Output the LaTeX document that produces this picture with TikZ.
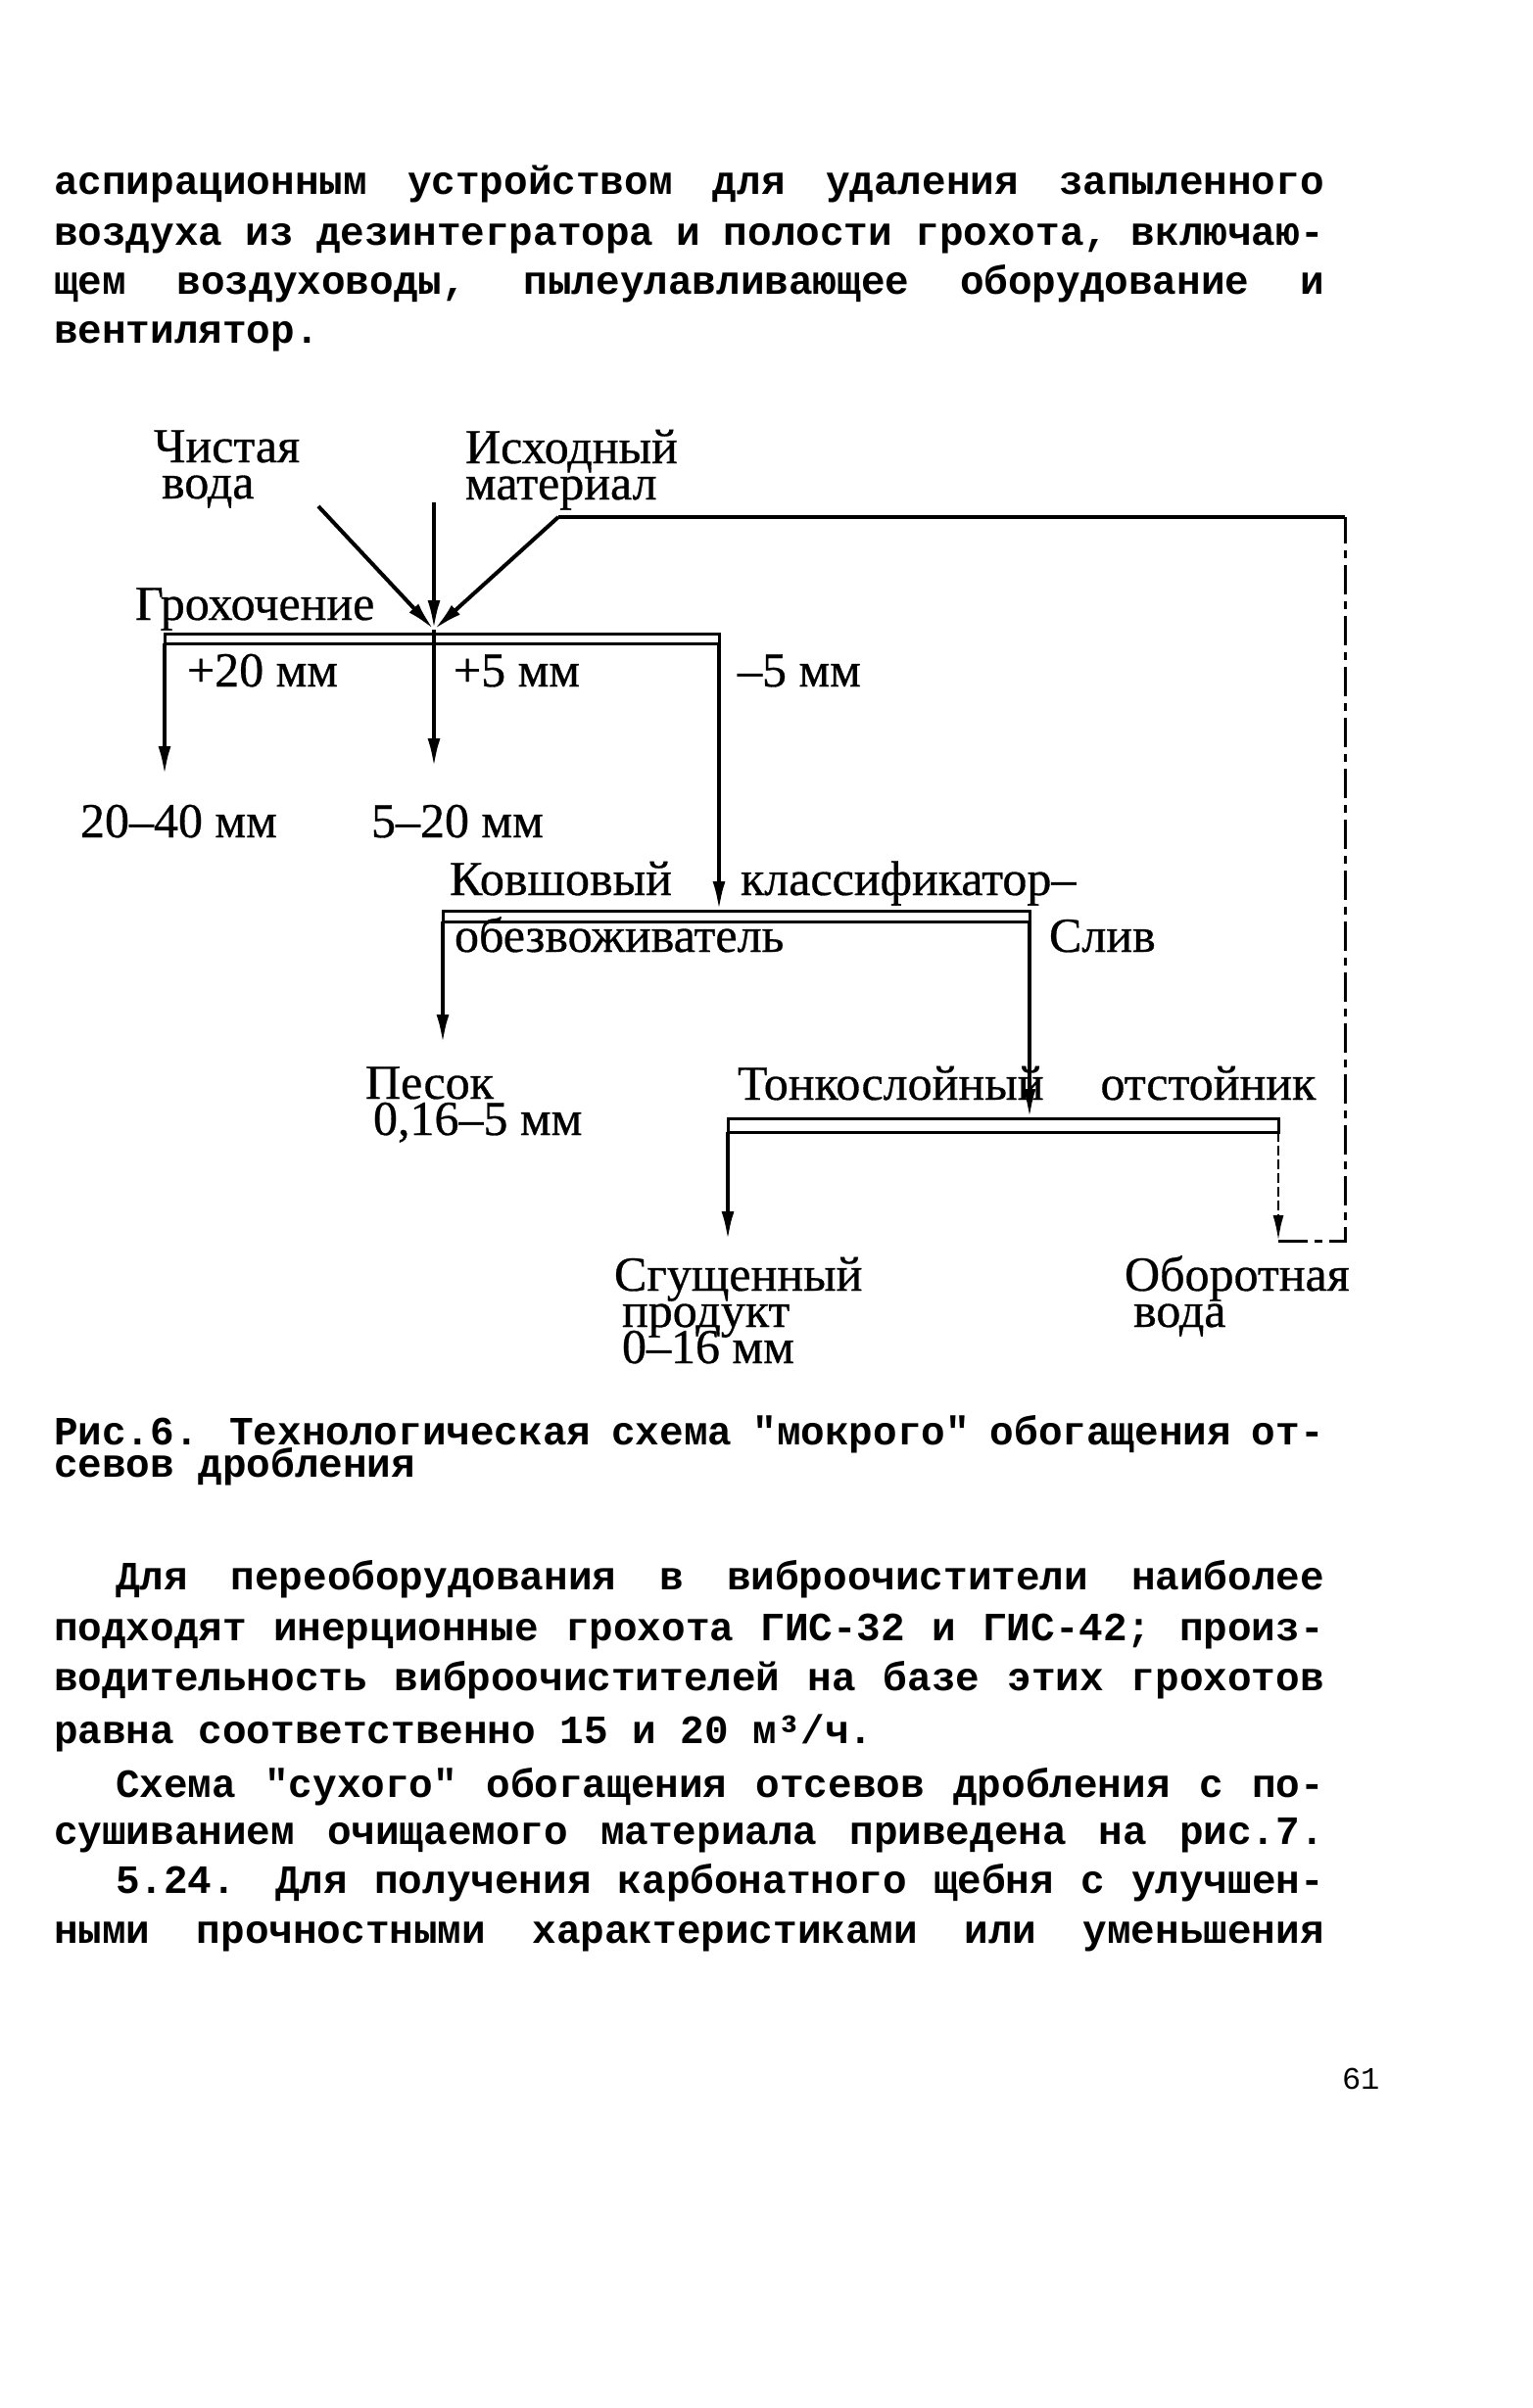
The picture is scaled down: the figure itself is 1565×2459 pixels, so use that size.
\documentclass[tikz,border=0pt]{standalone}
\usepackage{fontspec}
\setmainfont{Liberation Serif}
\newfontfamily\labf{Liberation Serif}[FakeBold=0.6]
\newfontfamily\tw{Liberation Mono}
\usetikzlibrary{arrows.meta}
\newcommand\jl[2]{\makebox[#1pt][s]{\spaceskip=0.6em plus 1fil minus 0.25em\relax #2}}
\newcommand\ml[2]{\begin{minipage}[t]{#1pt}\lineskiplimit=-100pt\relax #2\end{minipage}}
\begin{document}
\begin{tikzpicture}[x=1pt,y=-1pt,
  body/.style={anchor=base west,inner sep=0pt,outer sep=0pt,font=\tw\bfseries\fontsize{41}{48}\selectfont},
  captxt/.style={anchor=base west,inner sep=0pt,outer sep=0pt,font=\tw\bfseries\fontsize{41}{33}\selectfont},
  lab/.style={anchor=base west,inner sep=0pt,outer sep=0pt,font=\labf\fontsize{50}{37}\selectfont},
  ln/.style={line width=4pt},
  bar/.style={line width=3pt},
  arr/.style={line width=4pt,-{Latex[length=30pt,width=13pt]}},
  fb/.style={line width=3pt,dash pattern=on 30pt off 7pt on 8pt off 7pt},
  fbarr/.style={line width=2.5pt,dash pattern=on 10pt off 4pt,-{Latex[length=26pt,width=11pt]}}
]
\fill[white] (0,0) rectangle (1565,2459);
\path[use as bounding box] (0,0) rectangle (1565,2459);

% ---- top paragraph
\node[body] (p1) at (55,199) {\jl{1297}{аспирационным устройством для удаления запыленного}};
\node[body] (p2) at (55,250) {\jl{1297}{воздуха из дезинтегратора и полости грохота, включаю-}};
\node[body] (p3) at (55,300) {\jl{1297}{щем воздуховоды, пылеулавливающее оборудование и}};
\node[body] (p4) at (55,350) {вентилятор.};

% ---- diagram labels
\node[lab] (chv) at (157,472) {\ml{300}{Чистая\\\hspace*{8pt}вода}};
\node[lab] (ish) at (475,473) {\ml{300}{Исходный\\материал}};
\node[lab] (groh) at (138,633) {Грохочение};
\node[lab] (p20) at (191,701) {+20 мм};
\node[lab] (p5) at (463,701) {+5 мм};
\node[lab] (m5) at (753,701) {–5 мм};
\node[lab] (o2040) at (82,855) {20–40 мм};
\node[lab] (o520) at (379,855) {5–20 мм};
\node[lab] (kov) at (459,914) {Ковшовый};
\node[lab] (kls) at (756,914) {классификатор–};
\node[lab] (obz) at (464,972) {обезвоживатель};
\node[lab] (sliv) at (1071,972) {Слив};
\node[lab] (pes) at (373,1122) {\ml{300}{Песок\\\hspace*{8pt}0,16–5 мм}};
\node[lab] (tonk) at (753,1123) {Тонкослойный\hspace{58pt}отстойник};
\node[lab] (sg) at (627,1318) {\ml{300}{Сгущенный\\\hspace*{8pt}продукт\\\hspace*{8pt}0–16 мм}};
\node[lab] (ob) at (1148,1318) {\ml{300}{Оборотная\\\hspace*{9pt}вода}};

% ---- coordinates
\coordinate (J) at (443,643);
\coordinate (ldT) at (325,517);
\coordinate (vT) at (443,513);
\coordinate (rdT) at (570,528);
\coordinate (fbTR) at (1373,528);
\coordinate (fbBR) at (1373,1267);
\coordinate (fbBL) at (1305,1267);
\coordinate (sTL) at (168,647);
\coordinate (sBR) at (734,657);
\coordinate (sL) at (168,657);
\coordinate (sR) at (734,657);
\coordinate (o1) at (168,792);
\coordinate (o2) at (443,784);
\coordinate (kTop) at (734,930);
\coordinate (kTL) at (452,930);
\coordinate (kBR) at (1051,941);
\coordinate (kL) at (452,941);
\coordinate (kR) at (1051,941);
\coordinate (pesT) at (452,1066);
\coordinate (tTop) at (1051,1142);
\coordinate (tTL) at (743,1142);
\coordinate (tBR) at (1305,1156);
\coordinate (tL) at (743,1156);
\coordinate (tR) at (1305,1156);
\coordinate (sgA) at (743,1267);

% ---- screening
\draw[arr] (ldT) -- (J);
\draw[arr] (vT) -- (J);
\draw[arr] (rdT) -- (J);
\draw[ln] (fbTR) -- (rdT);
\draw[bar] (sTL) rectangle (sBR);
\draw[arr] (sL) -- (o1);
\draw[arr] (J) -- (o2);
\draw[arr] (sR) -- (kTop);

% ---- classifier
\draw[bar] (kTL) rectangle (kBR);
\draw[arr] (kL) -- (pesT);
\draw[arr] (kR) -- (tTop);

% ---- settler
\draw[bar] (tTL) rectangle (tBR);
\draw[arr] (tL) -- (sgA);
\draw[fbarr] (tR) -- (fbBL);
\draw[fb] (fbBL) -- (fbBR) -- (fbTR);

% ---- caption
\node[captxt] (capt) at (55,1475) {\ml{1297}{\jl{1297}{Рис.6. Технологическая схема "мокрого" обогащения от-}\\севов дробления}};

% ---- bottom paragraphs
\node[body] (b1) at (118,1623) {\jl{1234}{Для переоборудования в виброочистители наиболее}};
\node[body] (b2) at (55,1675) {\jl{1297}{подходят инерционные грохота ГИС-32 и ГИС-42; произ-}};
\node[body] (b3) at (55,1726) {\jl{1297}{водительность виброочистителей на базе этих грохотов}};
\node[body] (b4) at (55,1780) {равна соответственно 15 и 20 м³/ч.};
\node[body] (b5) at (118,1835) {\jl{1234}{Схема "сухого" обогащения отсевов дробления с по-}};
\node[body] (b6) at (55,1883) {\jl{1297}{сушиванием очищаемого материала приведена на рис.7.}};
\node[body] (b7) at (118,1933) {\jl{1234}{5.24. Для получения карбонатного щебня с улучшен-}};
\node[body] (b8) at (55,1984) {\jl{1297}{ными прочностными характеристиками или уменьшения}};

\node[body,font=\tw\fontsize{32}{36}\selectfont] (pg) at (1370,2133) {61};
\end{tikzpicture}
\end{document}
